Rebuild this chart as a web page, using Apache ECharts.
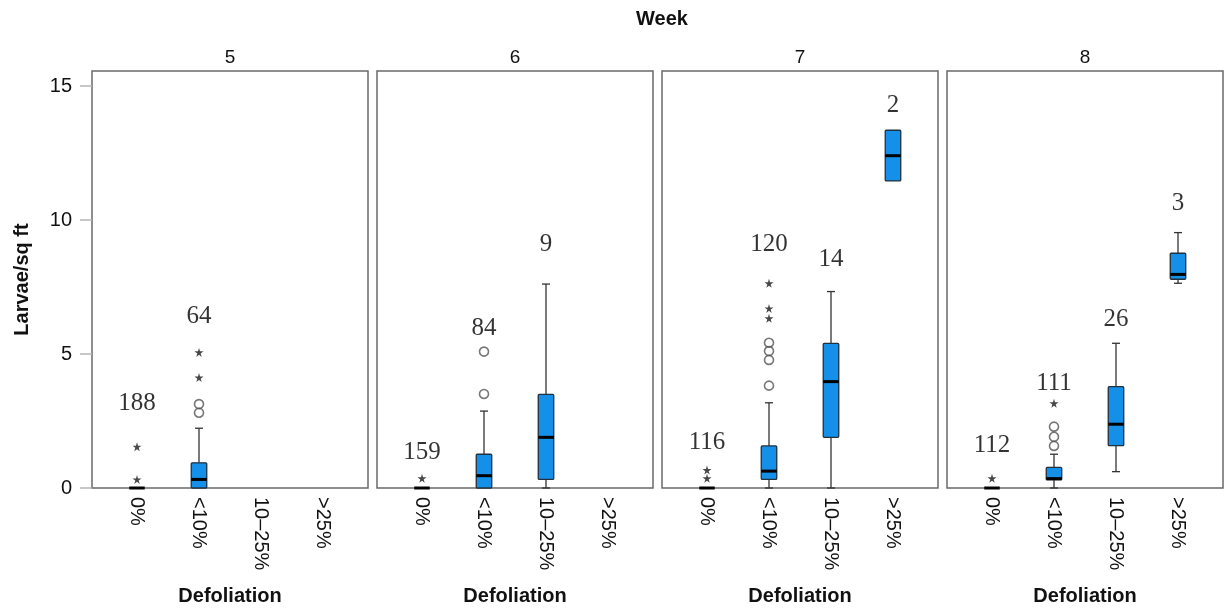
<!DOCTYPE html>
<html>
<head>
<meta charset="utf-8">
<script src="https://cdn.jsdelivr.net/npm/echarts@6/dist/echarts.min.js"></script>
<style>html,body{margin:0;padding:0;background:#fff;}#c{width:1225px;height:613px;}</style>
</head>
<body>
<div id="c"></div>
<script>
// ---------- DATA ----------
const categories = ['0%', '<10%', '10\u201325%', '>25%'];
const weeks = ['5', '6', '7', '8'];
const yTicks = [0, 5, 10, 15];

// box stats per week, per category: [lowerWhisker, Q1, median, Q3, upperWhisker]
const boxWeek5 = [[0, 0, 0, 0, 0], [0, 0, 0.32, 0.94, 2.23], null, null];
const boxWeek6 = [[0, 0, 0, 0, 0], [0, 0, 0.46, 1.26, 2.87], [0, 0.32, 1.89, 3.49, 7.61], null];
const boxWeek7 = [[0, 0, 0, 0, 0], [0, 0.32, 0.63, 1.57, 3.18], [0, 1.89, 3.97, 5.40, 7.33], [11.46, 11.46, 12.40, 13.35, 13.35]];
const boxWeek8 = [[0, 0, 0, 0, 0], [0, 0.30, 0.35, 0.77, 1.26], [0.61, 1.58, 2.38, 3.78, 5.40], [7.64, 7.79, 7.97, 8.76, 9.53]];

// outliers: [categoryIndex, value]
const circlesWeek5 = [[1, 2.81], [1, 3.13]];
const circlesWeek6 = [[1, 3.51], [1, 5.09]];
const circlesWeek7 = [[1, 3.82], [1, 4.78], [1, 5.11], [1, 5.42]];
const circlesWeek8 = [[1, 1.57], [1, 1.91], [1, 2.29]];

const starsWeek5 = [[0, 0.32], [0, 1.54], [1, 4.12], [1, 5.06]];
const starsWeek6 = [[0, 0.36]];
const starsWeek7 = [[0, 0.36], [0, 0.67], [1, 6.33], [1, 6.70], [1, 7.64]];
const starsWeek8 = [[0, 0.36], [1, 3.16]];

// group sizes (n) per category
const nWeek5 = [188, 64, null, null];
const nWeek6 = [159, 84, 9, null];
const nWeek7 = [116, 120, 14, 2];
const nWeek8 = [112, 111, 26, 3];
// height (data units) where each n label sits
const nAtWeek5 = [3.16, 6.42, null, null];
const nAtWeek6 = [1.34, 5.97, 9.07, null];
const nAtWeek7 = [1.69, 9.07, 8.54, 14.29];
const nAtWeek8 = [1.60, 3.91, 6.29, 10.60];

// ---------- LAYOUT ----------
(function () {
const boxes = [boxWeek5, boxWeek6, boxWeek7, boxWeek8];
const circles = [circlesWeek5, circlesWeek6, circlesWeek7, circlesWeek8];
const stars = [starsWeek5, starsWeek6, starsWeek7, starsWeek8];
const ns = [nWeek5, nWeek6, nWeek7, nWeek8];
const nAts = [nAtWeek5, nAtWeek6, nAtWeek7, nAtWeek8];

const YMAX = 15.56;
const panelLeft = [92, 377, 662, 947];
const panelW = 276, pad = 14, gTop = 71, gBottom = 125;
const FONT = 'Liberation Sans';
const TXT = '#111';
const STAR = 'path://M50,0 L61,35 L98,35 L68,57 L79,91 L50,70 L21,91 L32,57 L2,35 L39,35 Z';

const grid = [], xAxis = [], yAxis = [], series = [];

weeks.forEach((w, i) => {
  grid.push({ left: panelLeft[i], width: panelW, top: gTop, bottom: gBottom, show: true,
    borderColor: '#6a6a6a', borderWidth: 1.5, backgroundColor: '#fff' });
  grid.push({ left: panelLeft[i] + pad, width: panelW - 2 * pad, top: gTop, bottom: gBottom });
});

weeks.forEach((w, i) => {
  const fg = 2 * i, dg = 2 * i + 1;
  xAxis.push({ gridIndex: fg, type: 'value', position: 'top', min: 0, max: 1,
    name: w, nameLocation: 'middle', nameGap: 4,
    nameTextStyle: { fontFamily: FONT, fontSize: 19, color: TXT },
    axisLine: { show: false }, axisTick: { show: false }, axisLabel: { show: false }, splitLine: { show: false } });
  xAxis.push({ gridIndex: dg, type: 'category', data: categories, boundaryGap: true,
    name: 'Defoliation', nameLocation: 'middle', nameGap: 98,
    nameTextStyle: { fontFamily: FONT, fontSize: 20, fontWeight: 'bold', color: TXT },
    axisLine: { show: false }, axisTick: { show: false }, splitLine: { show: false },
    axisLabel: { rotate: -90, margin: 9, fontFamily: FONT, fontSize: 20, color: TXT, interval: 0 } });
  yAxis.push({ gridIndex: fg, type: 'value', min: 0, max: YMAX, interval: 5,
    show: i === 0,
    name: i === 0 ? 'Larvae/sq ft' : '', nameLocation: 'middle', nameGap: 60,
    nameTextStyle: { fontFamily: FONT, fontSize: 20, fontWeight: 'bold', color: TXT },
    axisLine: { show: false }, splitLine: { show: false },
    axisTick: { show: true, length: 12, lineStyle: { color: '#b5b5b5', width: 1.5 }, customValues: yTicks },
    axisLabel: { fontFamily: FONT, fontSize: 20, color: TXT, margin: 20, customValues: yTicks } });
  yAxis.push({ gridIndex: dg, type: 'value', min: 0, max: YMAX, show: false, splitLine: { show: false } });

  const boxData = [];
  boxes[i].forEach((b, c) => { if (b) boxData.push([c].concat(b)); });

  series.push({
    type: 'custom', xAxisIndex: dg, yAxisIndex: dg, z: 2,
    encode: { x: 0, y: [1, 2, 3, 4, 5] },
    data: boxData,
    renderItem: function (params, api) {
      const x = api.value(0);
      const lo = api.value(1), q1 = api.value(2), md = api.value(3), q3 = api.value(4), hi = api.value(5);
      const band = api.size([1, 0])[0];
      const bw = band * 0.25, cw = band * 0.13;
      const pLo = api.coord([x, lo]), pQ1 = api.coord([x, q1]), pMd = api.coord([x, md]);
      const pQ3 = api.coord([x, q3]), pHi = api.coord([x, hi]);
      const cx = pMd[0];
      const wStyle = { stroke: '#333', lineWidth: 1.3 };
      const ch = [];
      if (hi > q3) {
        ch.push({ type: 'line', shape: { x1: cx, y1: pQ3[1], x2: cx, y2: pHi[1] }, style: wStyle });
        ch.push({ type: 'line', shape: { x1: cx - cw / 2, y1: pHi[1], x2: cx + cw / 2, y2: pHi[1] }, style: wStyle });
      }
      if (lo < q1) {
        ch.push({ type: 'line', shape: { x1: cx, y1: pQ1[1], x2: cx, y2: pLo[1] }, style: wStyle });
        ch.push({ type: 'line', shape: { x1: cx - cw / 2, y1: pLo[1], x2: cx + cw / 2, y2: pLo[1] }, style: wStyle });
      }
      if (q3 > q1) {
        ch.push({ type: 'rect', shape: { x: cx - bw / 2, y: pQ3[1], width: bw, height: pQ1[1] - pQ3[1], r: 1 },
          style: { fill: '#1490e8', stroke: '#22303c', lineWidth: 1.3 } });
      }
      ch.push({ type: 'line', shape: { x1: cx - bw / 2, y1: pMd[1], x2: cx + bw / 2, y2: pMd[1] },
        style: { stroke: '#000', lineWidth: 3 } });
      return { type: 'group', children: ch };
    }
  });

  series.push({ type: 'scatter', xAxisIndex: dg, yAxisIndex: dg, z: 3, symbol: 'circle', symbolSize: 9,
    itemStyle: { color: 'rgba(255,255,255,0)', borderColor: '#555', borderWidth: 1.6 },
    data: circles[i] });
  series.push({ type: 'scatter', xAxisIndex: dg, yAxisIndex: dg, z: 4, symbol: STAR, symbolSize: 9,
    itemStyle: { color: '#1a1a1a' }, data: stars[i] });

  const labelData = [];
  ns[i].forEach((n, c) => { if (n !== null) labelData.push({ value: [c, nAts[i][c]], name: String(n) }); });
  series.push({ type: 'scatter', xAxisIndex: dg, yAxisIndex: dg, z: 5, symbolSize: 0, silent: true,
    data: labelData,
    label: { show: true, position: 'inside', formatter: '{b}', fontFamily: 'Liberation Serif',
      fontSize: 25, color: '#000', textBorderWidth: 0 } });
});

const chart = echarts.init(document.getElementById('c'), null, { renderer: 'canvas' });
chart.setOption({
  animation: false,
  backgroundColor: '#fff',
  title: { text: 'Week', left: 657, top: 4, textAlign: 'center',
    textStyle: { fontFamily: FONT, fontSize: 20, fontWeight: 'bold', color: TXT } },
  grid: grid, xAxis: xAxis, yAxis: yAxis, series: series
});
})();
</script>
</body>
</html>
